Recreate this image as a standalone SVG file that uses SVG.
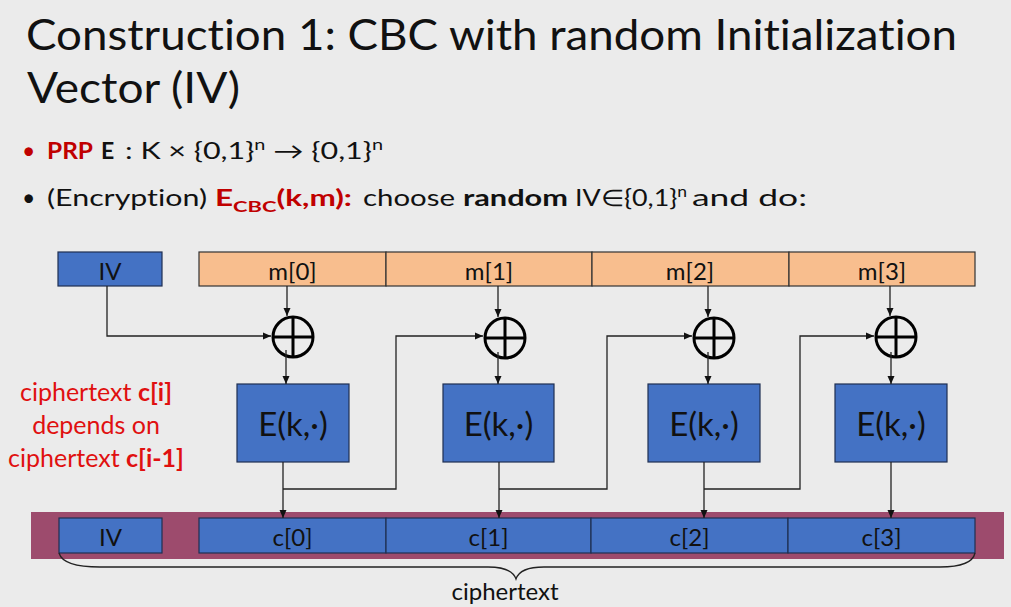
<svg xmlns="http://www.w3.org/2000/svg" width="1011" height="607" viewBox="0 0 1011 607">
<defs>
<style>
text{font-variant-ligatures:none}
.t{font-family:Lato,"Liberation Sans",sans-serif;fill:#111}
.blue{fill:#4472c4;stroke:#1f2f52;stroke-width:1.2}
.org{fill:#f8be8e;stroke:#333;stroke-width:1.2}
.lbl{font-family:Lato,"Liberation Sans",sans-serif;font-size:24px;fill:#111;text-anchor:middle}
.ek{font-family:Lato,"Liberation Sans",sans-serif;font-size:33px;fill:#111;text-anchor:middle}
.xor{fill:none;stroke:#000;stroke-width:3}
.ln{fill:none;stroke:#222;stroke-width:1.3}
.red{font-family:Lato,"Liberation Sans",sans-serif;font-size:25px;fill:#e01010;text-anchor:middle}
</style>
<marker id="ah" markerUnits="userSpaceOnUse" markerWidth="8" markerHeight="8" refX="8" refY="4" orient="auto">
<path d="M0,0.5 L8,4 L0,7.5 z" fill="#111"/>
</marker>
</defs>
<rect width="1011" height="607" fill="#ebebeb"/>

<g id="title">
<text class="t" x="26" y="50" font-size="43" textLength="931" lengthAdjust="spacingAndGlyphs">Construction 1: CBC with random Initialization</text>
<text class="t" x="27" y="103" font-size="43" textLength="213" lengthAdjust="spacingAndGlyphs">Vector (IV)</text>
</g>

<g id="bullet1" font-size="23">
<text class="t" x="22" y="159" style="fill:#c00000">•</text>
<text class="t" x="47" y="159" font-weight="bold" style="fill:#c00000" textLength="46" lengthAdjust="spacingAndGlyphs">PRP</text>
<text class="t" x="101" y="159" font-weight="bold">E</text>
<text class="t" x="125" y="159" textLength="258" lengthAdjust="spacingAndGlyphs">: K × {0,1}<tspan font-size="15" dy="-9">n</tspan><tspan dy="9"> → {0,1}</tspan><tspan font-size="15" dy="-9">n</tspan></text>
</g>

<g id="bullet2" font-size="23">
<text class="t" x="22" y="206">•</text>
<text class="t" x="47" y="206" textLength="160" lengthAdjust="spacingAndGlyphs">(Encryption)</text>
<text class="t" x="215" y="206" font-weight="bold" style="fill:#c00000" textLength="137" lengthAdjust="spacingAndGlyphs">E<tspan font-size="16" dy="6">CBC</tspan><tspan dy="-6">(k,m):</tspan></text>
<text class="t" x="363" y="206" textLength="92" lengthAdjust="spacingAndGlyphs">choose</text>
<text class="t" x="463" y="206" font-weight="bold" textLength="105" lengthAdjust="spacingAndGlyphs">random</text>
<text class="t" x="575" y="206" textLength="112" lengthAdjust="spacingAndGlyphs">IV∈{0,1}<tspan font-size="15" dy="-9">n</tspan></text>
<text class="t" x="692" y="206" textLength="115" lengthAdjust="spacingAndGlyphs">and do:</text>
</g>

<g id="note">
<text class="red" x="96" y="401">ciphertext <tspan font-weight="bold">c[i]</tspan></text>
<text class="red" x="96" y="434">depends on</text>
<text class="red" x="96" y="467">ciphertext <tspan font-weight="bold">c[i-1]</tspan></text>
</g>

<g id="band"><rect x="31" y="512" width="973" height="47" fill="#9d4b6d"/></g>

<g id="iv-top"><rect class="blue" x="58" y="252" width="104" height="34"/><text class="lbl" x="110" y="280">IV</text></g>
<g id="m0"><rect class="org" x="199" y="252" width="187" height="34"/><text class="lbl" x="292.5" y="280">m[0]</text></g>
<g id="m1"><rect class="org" x="386" y="252" width="206" height="34"/><text class="lbl" x="489" y="280">m[1]</text></g>
<g id="m2"><rect class="org" x="592" y="252" width="197" height="34"/><text class="lbl" x="690" y="280">m[2]</text></g>
<g id="m3"><rect class="org" x="789" y="252" width="186" height="34"/><text class="lbl" x="882" y="280">m[3]</text></g>

<g id="xor1"><circle class="xor" cx="293" cy="337" r="20"/><path class="xor" d="M273,337 H313 M293,317 V357"/></g>
<g id="xor2"><circle class="xor" cx="505" cy="338" r="20"/><path class="xor" d="M485,338 H525 M505,318 V358"/></g>
<g id="xor3"><circle class="xor" cx="714" cy="338" r="20"/><path class="xor" d="M694,338 H734 M714,318 V358"/></g>
<g id="xor4"><circle class="xor" cx="896" cy="337" r="20"/><path class="xor" d="M876,337 H916 M896,317 V357"/></g>

<g id="E1"><rect class="blue" x="237" y="384" width="112" height="78"/><text class="ek" x="293" y="436">E(k,·)</text></g>
<g id="E2"><rect class="blue" x="443" y="384" width="111" height="78"/><text class="ek" x="498.5" y="436">E(k,·)</text></g>
<g id="E3"><rect class="blue" x="648" y="384" width="112" height="78"/><text class="ek" x="704" y="436">E(k,·)</text></g>
<g id="E4"><rect class="blue" x="835" y="384" width="112" height="78"/><text class="ek" x="891" y="436">E(k,·)</text></g>

<g id="iv-bottom"><rect class="blue" x="59" y="518" width="103" height="35"/><text class="lbl" x="110.5" y="546">IV</text></g>
<g id="c0"><rect class="blue" x="199" y="518" width="187" height="35"/><text class="lbl" x="292.5" y="546">c[0]</text></g>
<g id="c1"><rect class="blue" x="386" y="518" width="205" height="35"/><text class="lbl" x="488.5" y="546">c[1]</text></g>
<g id="c2"><rect class="blue" x="591" y="518" width="197" height="35"/><text class="lbl" x="689.5" y="546">c[2]</text></g>
<g id="c3"><rect class="blue" x="788" y="518" width="187" height="35"/><text class="lbl" x="881.5" y="546">c[3]</text></g>

<g id="connectors">
<path class="ln" d="M107,286 V336 H271" marker-end="url(#ah)"/>
<path class="ln" d="M287,286 V316" marker-end="url(#ah)"/>
<path class="ln" d="M286,350 V384" marker-end="url(#ah)"/>
<path class="ln" d="M283,462 V518" marker-end="url(#ah)"/>
<path class="ln" d="M283,489 H396 V336 H483" marker-end="url(#ah)"/>
<path class="ln" d="M498,286 V317" marker-end="url(#ah)"/>
<path class="ln" d="M498,352 V384" marker-end="url(#ah)"/>
<path class="ln" d="M499,462 V518" marker-end="url(#ah)"/>
<path class="ln" d="M499,489 H607 V336 H692" marker-end="url(#ah)"/>
<path class="ln" d="M708,286 V317" marker-end="url(#ah)"/>
<path class="ln" d="M708,352 V384" marker-end="url(#ah)"/>
<path class="ln" d="M704,462 V518" marker-end="url(#ah)"/>
<path class="ln" d="M704,489 H800 V336 H874" marker-end="url(#ah)"/>
<path class="ln" d="M890,286 V316" marker-end="url(#ah)"/>
<path class="ln" d="M891,352 V384" marker-end="url(#ah)"/>
<path class="ln" d="M891,462 V518" marker-end="url(#ah)"/>
</g>

<g id="brace">
<path class="ln" d="M59,553 Q63,567 100,567 L488,567 Q512,567 516,579 Q520,567 544,567 L940,567 Q972,567 975,553"/>
<text class="lbl" x="505" y="600">ciphertext</text>
</g>
</svg>
